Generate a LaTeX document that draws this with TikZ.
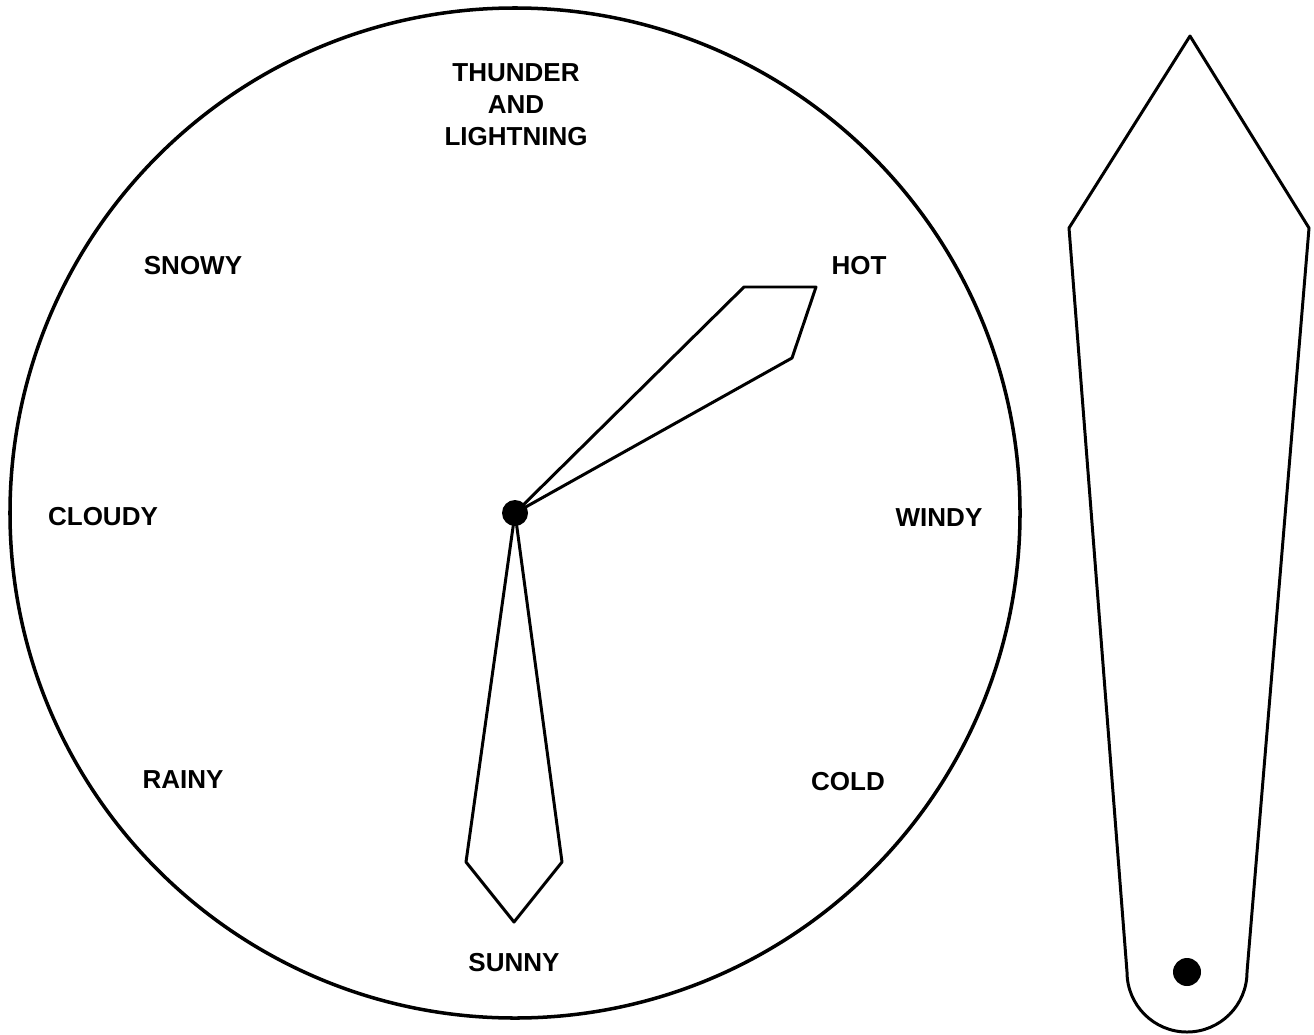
\documentclass[tikz,border=0pt]{standalone}
\usepackage{fontspec}
\setmainfont{Liberation Sans}
\tikzset{
  label/.style={font=\fontsize{14.8pt}{18.2pt}\selectfont\bfseries,align=center,inner sep=0pt},
  outline/.style={line width=1.7pt,line join=round}
}
\begin{document}
\begin{tikzpicture}[x=0.02cm,y=-0.02cm]
\useasboundingbox (0,0) rectangle (1314,1034);

% dial
\coordinate (hub) at (515,513);
\draw[line width=2pt] (hub) circle (505);

% hands
\draw[outline] (hub) -- (744,287) -- (816,287) -- (792,358) -- cycle;
\draw[outline] (hub) -- (562,862) -- (514,922) -- (466,862) -- cycle;
\fill (hub) circle (13);

\node[label] (thunder) at (516,105) {THUNDER\\AND\\LIGHTNING};
\node[label] (snowy) at (193,266) {SNOWY};
\node[label] (hot) at (859,266) {HOT};
\node[label] (cloudy) at (103,517) {CLOUDY};
\node[label] (windy) at (939,518) {WINDY};
\node[label] (rainy) at (183,780) {RAINY};
\node[label] (cold) at (848,782) {COLD};
\node[label] (sunny) at (514,963) {SUNNY};

% spare pointer
\coordinate (pin) at (1187,972);
\draw[outline] (1190,36) -- (1309,228) -- (1247,972)
  arc[start angle=0,end angle=180,radius=60] -- (1069,228) -- cycle;
\fill (pin) circle (14);
\end{tikzpicture}
\end{document}
